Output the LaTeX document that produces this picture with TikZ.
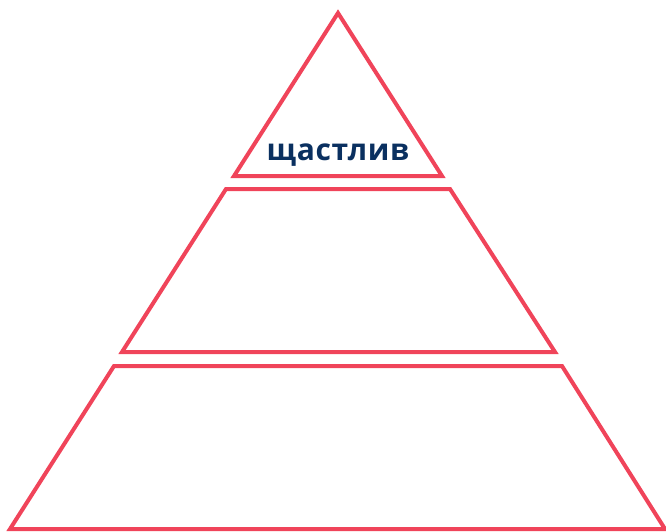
\documentclass[tikz,border=0pt]{standalone}
\usepackage{fontspec}
\setmainfont{Open Sans}
\newfontfamily\bgfont[Language=Bulgarian,Script=Cyrillic,LetterSpace=2]{Open Sans}
\definecolor{pyrred}{RGB}{240,68,90}
\definecolor{navy}{RGB}{10,48,96}
\begin{document}
\begin{tikzpicture}[x=1pt,y=-1pt,
  tier/.style={draw=pyrred,line width=4pt,line join=miter}]
\useasboundingbox (0,0) rectangle (666,531);
\draw[tier] (338,13) -- (442,176) -- (234,176) -- cycle;
\draw[tier] (226,189) -- (450,189) -- (555,352) -- (122,352) -- cycle;
\draw[tier] (114,366) -- (562,366) -- (665,529) -- (10,529) -- cycle;
\node[text=navy,font={\fontsize{30}{36}\bgfont\bfseries},inner sep=0pt,anchor=base] (lbl) at (338,160) {щастлив};
\end{tikzpicture}
\end{document}
